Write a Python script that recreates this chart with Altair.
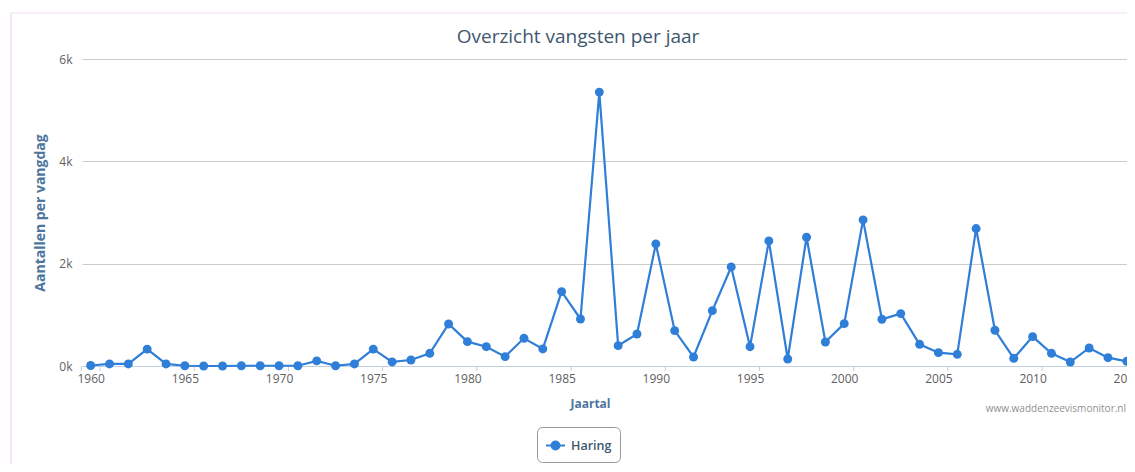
import altair as alt
import pandas as pd

# ---- data ----
years = list(range(1960, 2016))
haring = [10, 40, 40, 330, 40, 5, 0, 0, 5, 5,
          5, 5, 100, 5, 40, 330, 80, 117, 248, 821,
          476, 378, 183, 541, 333, 1454, 919, 5353, 398, 626,
          2386, 691, 176, 1082, 1936, 378, 2445, 137, 2517, 469,
          828, 2856, 913, 1024, 424, 261, 228, 2686, 698, 150,
          574, 248, 78, 352, 163, 91]
series_name = ["Haring"]
x_label_values = list(range(1960, 2016, 5))
x_tick_values = [1959.5, 1960.5] + [y + 0.5 for y in range(1965, 2015, 5)]
y_tick_values = [0, 2000, 4000, 6000]
title_text = ["Overzicht vangsten per jaar"]
credit = ["www.waddenzeevismonitor.nl"]

df = pd.DataFrame({"Jaar": years, "Aantal": haring, "Soort": series_name * len(years)})
ticks_df = pd.DataFrame({"t": x_tick_values})
credit_df = pd.DataFrame({"c": credit})
title_df = pd.DataFrame({"c": title_text})

BLUE = "#2f7ed8"
FONT = "Open Sans"

x_scale = alt.Scale(domain=[1959.54, 2015.01], nice=False, zero=False)
y_scale = alt.Scale(domain=[0, 6000], nice=False, zero=True)

x_axis = alt.Axis(
    title="Jaartal", values=x_label_values, format="d", ticks=False, grid=False,
    domainColor="#C0D0E0", domainWidth=1,
    labelColor="#606060", labelFont=FONT, labelFontSize=12, labelPadding=7,
    labelFlush=False, labelOverlap=False, labelBound=False,
    titleFont=FONT, titleFontSize=12, titleFontWeight="bold", titleColor="#4d759e",
    titleX=508, titleY=37, titleBaseline="middle", titleAlign="center",
)
y_axis = alt.Axis(
    title="Aantallen per vangdag", values=y_tick_values,
    labelExpr="datum.value / 1000 + 'k'", ticks=False, domain=False,
    grid=True, gridColor="#CCCCCC", gridWidth=1,
    labelColor="#606060", labelFont=FONT, labelFontSize=12, labelPadding=10,
    titleFont=FONT, titleFontSize=14, titleFontWeight="bold", titleColor="#4d759e",
    titleX=-42, titleY=153.5, titleBaseline="middle", titleAlign="center", titleAngle=270,
)

base = alt.Chart(df)

line = base.mark_line(color=BLUE, strokeWidth=2.2).encode(
    x=alt.X("Jaar:Q", scale=x_scale, axis=x_axis),
    y=alt.Y("Aantal:Q", scale=y_scale, axis=y_axis),
)

legend_symbol = ("M-1,0L1,0M-0.42,0A0.42,0.42,0,1,1,0.42,0"
                 "A0.42,0.42,0,1,1,-0.42,0Z")

points = base.mark_circle(size=80, opacity=1).encode(
    x=alt.X("Jaar:Q", scale=x_scale),
    y=alt.Y("Aantal:Q", scale=y_scale),
    color=alt.Color(
        "Soort:N", scale=alt.Scale(range=[BLUE]),
        legend=alt.Legend(
            title=None, orient="none", legendX=455, legendY=368,
            padding=8, strokeColor="#9a9a9a", cornerRadius=5, fillColor="white",
            symbolType=legend_symbol, symbolSize=361, symbolStrokeWidth=2,
            symbolStrokeColor=BLUE, symbolFillColor=BLUE, symbolOpacity=1,
            labelFont=FONT, labelFontSize=12.5, labelFontWeight=600,
            labelColor="#3E576F", labelOffset=5,
        ),
    ),
)

ticks = alt.Chart(ticks_df).mark_rule(color="#C0D0E0", strokeWidth=1).encode(
    x=alt.X("t:Q", scale=x_scale),
    y=alt.value(307), y2=alt.value(312),
)

title_mark = alt.Chart(title_df).mark_text(
    align="center", baseline="middle", fontSize=19, color="#3E576F", font=FONT
).encode(text="c:N", x=alt.value(496), y=alt.value(-22))

credit_text = alt.Chart(credit_df).mark_text(
    align="right", baseline="middle", fontSize=10, color="#909090", font=FONT
).encode(text="c:N", x=alt.value(1044), y=alt.value(350))

border_left = alt.Chart(credit_df).mark_rule(color="#ecc9ee", strokeWidth=1).encode(
    x=alt.value(-71), y=alt.value(-46), y2=alt.value(420)
)
border_top = alt.Chart(credit_df).mark_rule(color="#f2dcf3", strokeWidth=1).encode(
    x=alt.value(-71), x2=alt.value(1060), y=alt.value(-46)
)

chart = (
    alt.layer(border_left, border_top, ticks, line, points, title_mark, credit_text)
    .properties(
        width=1045, height=307,
        autosize=alt.AutoSizeParams(type="none"),
        padding={"left": 74, "top": 51, "right": 0, "bottom": 98},
        background="white",
    )
    .configure_view(strokeWidth=0)
)

chart.save("out.html", embed_options={"renderer": "svg", "actions": False})
